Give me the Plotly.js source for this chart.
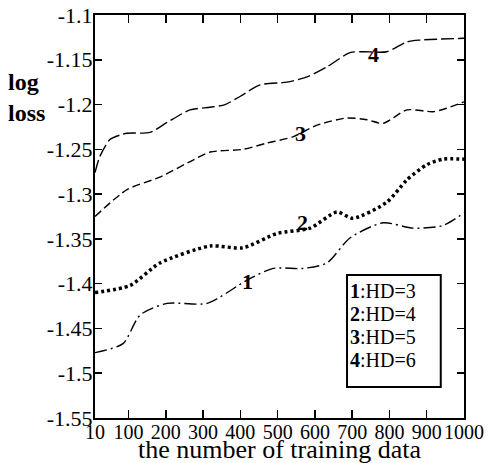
<!DOCTYPE html>
<html>
<head>
<meta charset="utf-8">
<script src="https://cdn.plot.ly/plotly-3.0.1.min.js"></script>
<style>
html,body{margin:0;padding:0;background:#fff;}
#chart{width:488px;height:463px;}
</style>
</head>
<body>
<div id="chart"></div>
<script>
// ---- data ----
const x1 = [10, 85, 131, 203, 311, 418, 488, 568, 632, 694, 783, 863, 944, 1000];
const y1 = [-1.477, -1.467, -1.435, -1.422, -1.422, -1.396, -1.383, -1.383, -1.377, -1.349, -1.332, -1.338, -1.335, -1.321];

const x2 = [10, 104, 184, 319, 407, 498, 587, 659, 702, 793, 847, 901, 944, 1000];
const y2 = [-1.410, -1.402, -1.377, -1.358, -1.360, -1.344, -1.338, -1.320, -1.327, -1.309, -1.284, -1.267, -1.261, -1.261];

const x3 = [10, 96, 184, 273, 319, 407, 471, 541, 606, 686, 740, 783, 847, 917, 954, 1000];
const y3 = [-1.325, -1.295, -1.281, -1.262, -1.253, -1.250, -1.243, -1.236, -1.223, -1.215, -1.217, -1.221, -1.206, -1.208, -1.204, -1.197];

const x4 = [10, 23, 50, 77, 96, 158, 203, 265, 319, 359, 399, 453, 525, 579, 632, 694, 729, 793, 847, 882, 1000];
const y4 = [-1.276, -1.258, -1.239, -1.234, -1.232, -1.231, -1.220, -1.206, -1.203, -1.200, -1.191, -1.178, -1.175, -1.169, -1.158, -1.142, -1.141, -1.141, -1.130, -1.128, -1.126];

const xTickVals = [10, 100, 200, 300, 400, 500, 600, 700, 800, 900, 1000];
const xTickText = ["10", "100", "200", "300", "400", "500", "600", "700", "800", "900", "1000"];
const yTickVals = [-1.55, -1.5, -1.45, -1.4, -1.35, -1.3, -1.25, -1.2, -1.15, -1.1];
const yTickText = ["-1.55", "-1.5", "-1.45", "-1.4", "-1.35", "-1.3", "-1.25", "-1.2", "-1.15", "-1.1"];

const curveIds = ["1", "2", "3", "4"];
const curveLabelX = [418, 568, 560, 756];
const curveLabelY = [-1.398, -1.332, -1.232, -1.144];
const legendIds = ["1", "2", "3", "4"];
const legendText = [":HD=3", ":HD=4", ":HD=5", ":HD=6"];
const xTitle = "the number of training data";
const yTitleLines = ["log", "loss"];

// ---- chart ----
const FONT = "Liberation Serif";
const lineCommon = {shape: "spline", smoothing: 0.7, color: "#000"};

const traces = [
  {x: x1, y: y1, mode: "lines", line: Object.assign({}, lineCommon, {width: 1.4, dash: "12px,4px,2px,4px"}), name: "HD=3"},
  {x: x2, y: y2, mode: "lines", line: Object.assign({}, lineCommon, {width: 3.5, dash: "3px,3px"}), name: "HD=4"},
  {x: x3, y: y3, mode: "lines", line: Object.assign({}, lineCommon, {width: 1.4, dash: "8px,4px"}), name: "HD=5"},
  {x: x4, y: y4, mode: "lines", line: Object.assign({}, lineCommon, {width: 1.4, dash: "13px,4px"}), name: "HD=6"}
];

const annotations = [];
curveIds.forEach((id, i) => {
  annotations.push({x: curveLabelX[i], y: curveLabelY[i], xref: "x", yref: "y", text: "<b>" + id + "</b>",
    showarrow: false, font: {family: FONT, size: 22, color: "#000"}});
});
const legTop = 0.316, legStep = 0.057;
legendIds.forEach((id, i) => {
  annotations.push({x: 0.685, y: legTop - i * legStep, xref: "paper", yref: "paper", xanchor: "left", yanchor: "middle",
    text: "<b>" + id + "</b>" + legendText[i], showarrow: false, font: {family: FONT, size: 20, color: "#000"}});
});
annotations.push({x: -0.24, y: 0.795, xref: "paper", yref: "paper", xanchor: "left", yanchor: "middle",
  text: "<b>" + yTitleLines.join("</b><br><b>") + "</b>", showarrow: false, align: "left",
  font: {family: FONT, size: 24, color: "#000"}});
annotations.push({x: 0.5, y: -0.078, xref: "paper", yref: "paper", xanchor: "center", yanchor: "middle",
  text: xTitle, showarrow: false, font: {family: FONT, size: 26, color: "#000"}});

const layout = {
  width: 488, height: 463,
  margin: {l: 95, r: 24, t: 15, b: 45},
  paper_bgcolor: "#fff", plot_bgcolor: "#fff",
  showlegend: false,
  font: {family: FONT, color: "#000"},
  xaxis: {
    range: [10, 1000], tickvals: xTickVals, ticktext: xTickText,
    ticks: "inside", ticklen: 8, tickwidth: 1.5, tickcolor: "#000",
    showline: true, linewidth: 2, linecolor: "#000", mirror: "ticks",
    showgrid: false, zeroline: false, ticklabelstandoff: -5,
    tickfont: {family: FONT, size: 20, color: "#000"}
  },
  yaxis: {
    range: [-1.55, -1.1], tickvals: yTickVals, ticktext: yTickText,
    ticks: "inside", ticklen: 7, tickwidth: 1.5, tickcolor: "#000",
    showline: true, linewidth: 2, linecolor: "#000", mirror: "ticks",
    showgrid: false, zeroline: false, ticklabelstandoff: -4,
    tickfont: {family: FONT, size: 22, color: "#000"}
  },
  shapes: [
    {type: "rect", xref: "paper", yref: "paper", x0: 0.683, x1: 0.937, y0: 0.077, y1: 0.355,
      line: {color: "#000", width: 2}, fillcolor: "rgba(0,0,0,0)"}
  ],
  annotations: annotations
};

Plotly.newPlot("chart", traces, layout, {displayModeBar: false, staticPlot: true});
</script>
</body>
</html>
